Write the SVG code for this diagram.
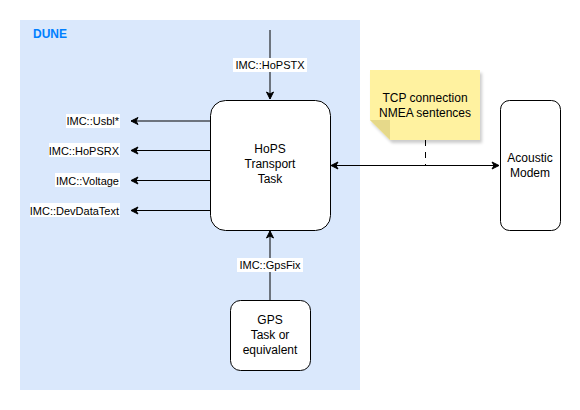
<svg xmlns="http://www.w3.org/2000/svg" width="580" height="410" viewBox="0 0 580 410">
<defs>
<marker id="ah" markerWidth="10" markerHeight="10" refX="8" refY="5" orient="auto-start-reverse" markerUnits="userSpaceOnUse">
<path d="M1,1.5 L8,5 L1,8.5 L3,5 Z" fill="#000" stroke="#000" stroke-width="1"/>
</marker>
<filter id="sh" x="-10%" y="-10%" width="130%" height="130%">
<feDropShadow dx="2" dy="3" stdDeviation="1.5" flood-color="#000" flood-opacity="0.2"/>
</filter>
</defs>
<style>
.node{fill:#fff;stroke:#000;stroke-width:1}
.t{font-family:"Liberation Sans",Arial,sans-serif;font-size:12px;fill:#000;text-anchor:middle}
.lbl{font-family:"Liberation Sans",Arial,sans-serif;font-size:11px;fill:#000}
.lb{fill:#fff}
.edge{stroke:#000;stroke-width:1;fill:none}
</style>
<g id="dune">
<rect x="20" y="20" width="340" height="370" fill="#dae8fc"/>
<text x="33" y="38" font-family="Liberation Sans,Arial,sans-serif" font-size="12" font-weight="bold" fill="#007fff">DUNE</text>
</g>
<g id="connectors">
<line class="edge" x1="270" y1="30" x2="270" y2="99" marker-end="url(#ah)"/>
<line class="edge" x1="270" y1="300" x2="270" y2="231" marker-end="url(#ah)"/>
<line class="edge" x1="210" y1="121" x2="131" y2="121" marker-end="url(#ah)"/>
<line class="edge" x1="210" y1="150.5" x2="131" y2="150.5" marker-end="url(#ah)"/>
<line class="edge" x1="210" y1="180.5" x2="131" y2="180.5" marker-end="url(#ah)"/>
<line class="edge" x1="210" y1="210.5" x2="131" y2="210.5" marker-end="url(#ah)"/>
<line class="edge" x1="331" y1="165.5" x2="499" y2="165.5" marker-start="url(#ah)" marker-end="url(#ah)"/>
<line class="edge" x1="425.5" y1="140" x2="425.5" y2="165" stroke-dasharray="6 6"/>
<rect class="lb" x="233" y="58" width="74" height="14"/>
<text class="lbl" x="270" y="69" text-anchor="middle">IMC::HoPSTX</text>
<rect class="lb" x="237" y="258" width="66" height="14"/>
<text class="lbl" x="270" y="269" text-anchor="middle">IMC::GpsFix</text>
<rect class="lb" x="66" y="114" width="54" height="14"/>
<text class="lbl" x="119" y="125" text-anchor="end">IMC::Usbl*</text>
<rect class="lb" x="49" y="143" width="71" height="14"/>
<text class="lbl" x="119" y="154.5" text-anchor="end">IMC::HoPSRX</text>
<rect class="lb" x="55" y="173" width="65" height="14"/>
<text class="lbl" x="119" y="184.5" text-anchor="end">IMC::Voltage</text>
<rect class="lb" x="30" y="203" width="90" height="14"/>
<text class="lbl" x="119" y="214.5" text-anchor="end">IMC::DevDataText</text>
</g>
<g id="hops">
<rect class="node" x="210.5" y="100.5" width="120" height="130" rx="15" ry="15"/>
<text class="t" x="270" y="153">HoPS</text>
<text class="t" x="270" y="168">Transport</text>
<text class="t" x="270" y="183">Task</text>
</g>
<g id="gps">
<rect class="node" x="230.5" y="300.5" width="80" height="70" rx="10" ry="10"/>
<text class="t" x="270" y="324">GPS</text>
<text class="t" x="270" y="339">Task or</text>
<text class="t" x="270" y="354">equivalent</text>
</g>
<g id="modem">
<rect class="node" x="500.5" y="100.5" width="60" height="130" rx="9" ry="9"/>
<text class="t" x="530" y="162">Acoustic</text>
<text class="t" x="530" y="177">Modem</text>
</g>
<g id="note">
<path d="M370,70 H480 V140 H390 L370,120 Z" fill="#fff2a0" filter="url(#sh)"/>
<path d="M370,120 L390,120 L390,140 Z" fill="#e6d98a"/>
<text class="t" x="425" y="102">TCP connection</text>
<text class="t" x="425" y="117">NMEA sentences</text>
</g>
</svg>
